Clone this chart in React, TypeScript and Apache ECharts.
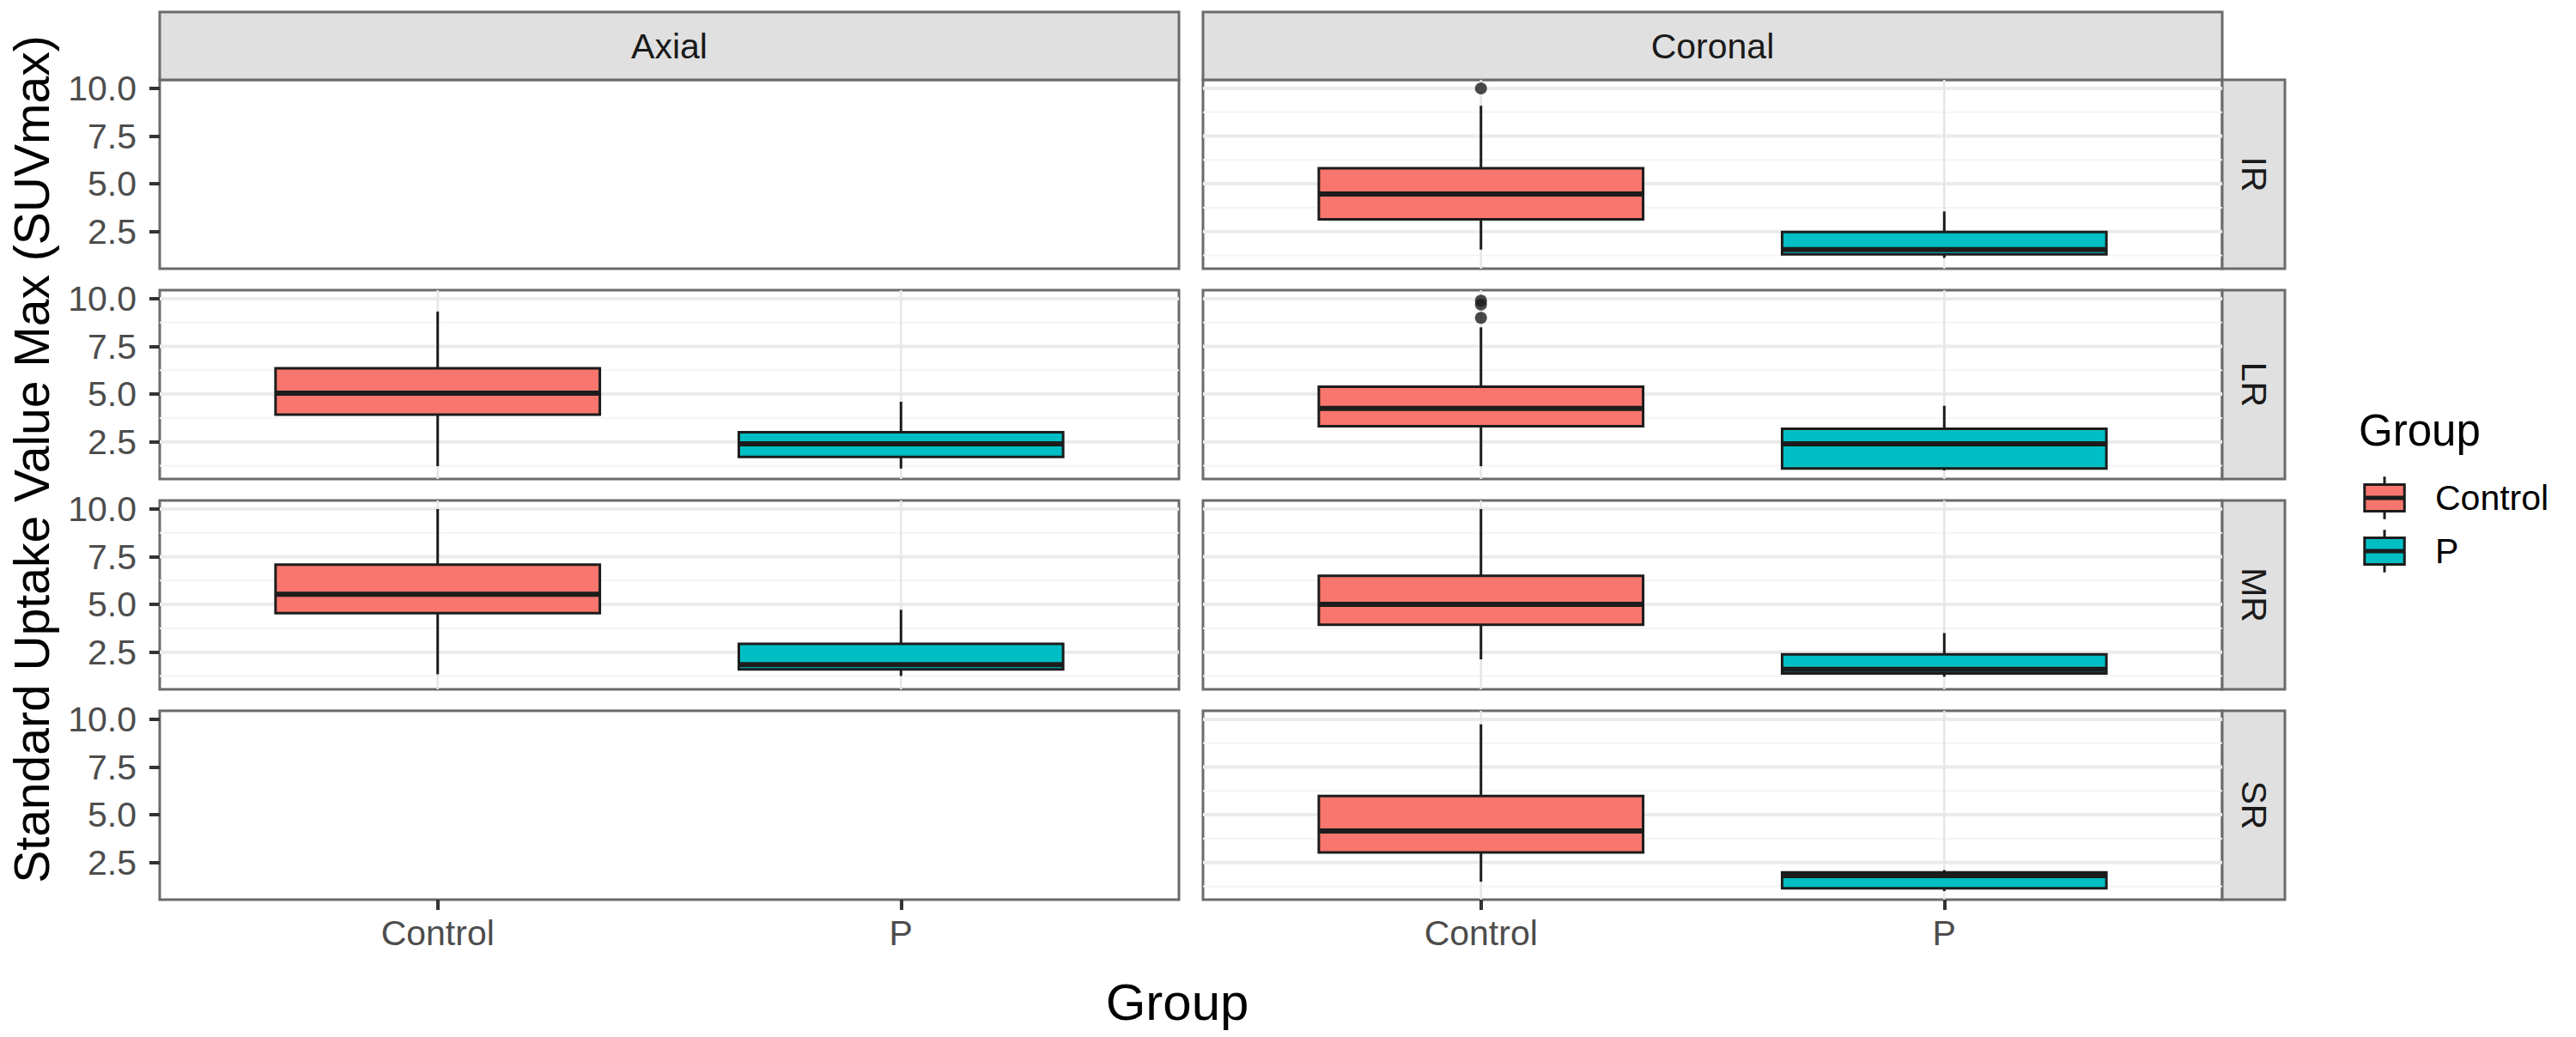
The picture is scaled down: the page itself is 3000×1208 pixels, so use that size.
import React, { useEffect, useRef } from "react";
import * as echarts from "echarts";

const views = ["Axial", "Coronal"];
const muscles = ["IR", "LR", "MR", "SR"];
const groups = ["Control", "P"];
const groupColors = ["#F8766D", "#00BFC4"];

const xPositions = [1, 2];
const yTicks = [2.5, 5.0, 7.5, 10.0];
const yMinorTicks = [1.25, 3.75, 6.25, 8.75];

// five-number summaries: [lower whisker, Q1, median, Q3, upper whisker], Control then P
const axialLR = [[1.22, 3.92, 5.05, 6.35, 9.33], [1.1, 1.71, 2.4, 3.0, 4.6]];
const axialMR = [[1.34, 4.54, 5.53, 7.09, 10.0], [1.25, 1.6, 1.84, 2.93, 4.72]];
const coronalIR = [[1.55, 3.14, 4.47, 5.81, 9.09], [1.12, 1.3, 1.55, 2.47, 3.55]];
const coronalLR = [[1.22, 3.32, 4.25, 5.39, 8.5], [1.0, 1.1, 2.4, 3.18, 4.39]];
const coronalMR = [[2.12, 3.94, 5.01, 6.5, 10.0], [1.21, 1.38, 1.6, 2.38, 3.5]];
const coronalSR = [[1.49, 3.02, 4.15, 5.98, 9.74], [1.0, 1.15, 1.81, 1.98, 2.1]];

// Control outliers
const coronalIROutliers = [10.0];
const coronalLROutliers = [9.0, 9.7, 9.9];

// [view][muscle]
const panelBoxes = [
  [null, axialLR, axialMR, null],
  [coronalIR, coronalLR, coronalMR, coronalSR],
];
const panelOutliers = [
  [[], [], [], []],
  [coronalIROutliers, coronalLROutliers, [], []],
];

const FONT = "Liberation Sans, Arial, sans-serif";
const COL_LEFT = [186, 1401];
const COL_W = 1187;
const ROW_TOP = [93, 338, 583, 828];
const ROW_H = 220;
const BOX_W = 0.7;
const OUTLINE = "#1c1c1c";
const BORDER = "#6b6b6b";

const App: React.FC = () => {
  const chartRef = useRef<HTMLDivElement | null>(null);

  useEffect(() => {
    if (!chartRef.current) return;
    const chart = echarts.init(chartRef.current, undefined, { renderer: "svg" });

    const grids: any[] = [];
    const xAxes: any[] = [];
    const yAxes: any[] = [];
    const series: any[] = [];

    // grid lines, drawn through the axes' scales
    const lines = [
      ...yMinorTicks.map((v) => ({ dir: "h", v, major: false })),
      ...yTicks.map((v) => ({ dir: "h", v, major: true })),
      ...xPositions.map((v) => ({ dir: "v", v, major: true })),
    ];

    views.forEach((view, c) => {
      muscles.forEach((muscle, r) => {
        const i = grids.length;
        const isBottom = r === muscles.length - 1;
        const isLeft = c === 0;
        grids.push({
          left: COL_LEFT[c],
          top: ROW_TOP[r],
          width: COL_W,
          height: ROW_H,
          show: true,
          backgroundColor: "#fff",
          borderColor: BORDER,
          borderWidth: 3,
        });
        xAxes.push({
          type: "value",
          gridIndex: i,
          min: 0.4,
          max: 2.6,
          axisLine: { show: false },
          splitLine: { show: false },
          axisTick: {
            show: isBottom,
            customValues: xPositions,
            length: 12,
            lineStyle: { color: "#333", width: 4 },
          },
          axisLabel: {
            show: isBottom,
            customValues: xPositions,
            formatter: (v: number) => groups[Math.round(v) - 1] ?? "",
            margin: 18,
            fontSize: 41,
            color: "#4d4d4d",
            fontFamily: FONT,
          },
        });
        yAxes.push({
          type: "value",
          gridIndex: i,
          min: 0.55,
          max: 10.45,
          axisLine: { show: false },
          splitLine: { show: false },
          axisTick: {
            show: isLeft,
            customValues: yTicks,
            length: 12,
            lineStyle: { color: "#333", width: 4 },
          },
          axisLabel: {
            show: isLeft,
            customValues: yTicks,
            formatter: (v: number) => v.toFixed(1),
            margin: 27,
            fontSize: 41,
            color: "#4d4d4d",
            fontFamily: FONT,
          },
        });

        const boxes = panelBoxes[c][r];
        if (!boxes) return;

        series.push({
          type: "custom",
          xAxisIndex: i,
          yAxisIndex: i,
          z: 1,
          silent: true,
          data: lines.map((l) => (l.dir === "h" ? [1.5, l.v] : [l.v, 5])),
          renderItem: (params: any, api: any) => {
            const l = lines[params.dataIndex];
            const a = l.dir === "h" ? api.coord([0.4, l.v]) : api.coord([l.v, 0.55]);
            const b = l.dir === "h" ? api.coord([2.6, l.v]) : api.coord([l.v, 10.45]);
            return {
              type: "line",
              shape: { x1: a[0], y1: a[1], x2: b[0], y2: b[1] },
              style: {
                stroke: l.dir === "v" ? "#e6e6e6" : l.major ? "#ebebeb" : "#f4f4f4",
                lineWidth: l.dir === "v" ? 2.5 : l.major ? 4 : 2,
              },
            };
          },
        });

        series.push({
          type: "custom",
          name: `${view} ${muscle}`,
          xAxisIndex: i,
          yAxisIndex: i,
          z: 2,
          encode: { x: 0, y: [1, 2, 3, 4, 5] },
          data: boxes.map((b, gi) => [xPositions[gi], ...b]),
          renderItem: (params: any, api: any) => {
            const x = api.value(0);
            const pLo = api.coord([x, api.value(1)]);
            const pQ1 = api.coord([x, api.value(2)]);
            const pMed = api.coord([x, api.value(3)]);
            const pQ3 = api.coord([x, api.value(4)]);
            const pHi = api.coord([x, api.value(5)]);
            const xl = api.coord([x - BOX_W / 2, api.value(3)])[0];
            const xr = api.coord([x + BOX_W / 2, api.value(3)])[0];
            return {
              type: "group",
              children: [
                {
                  type: "line",
                  shape: { x1: pLo[0], y1: pLo[1], x2: pQ1[0], y2: pQ1[1] },
                  style: { stroke: OUTLINE, lineWidth: 3 },
                },
                {
                  type: "line",
                  shape: { x1: pQ3[0], y1: pQ3[1], x2: pHi[0], y2: pHi[1] },
                  style: { stroke: OUTLINE, lineWidth: 3 },
                },
                {
                  type: "rect",
                  shape: { x: xl, y: pQ3[1], width: xr - xl, height: pQ1[1] - pQ3[1] },
                  style: { fill: groupColors[params.dataIndex], stroke: OUTLINE, lineWidth: 3 },
                },
                {
                  type: "line",
                  shape: { x1: xl, y1: pMed[1], x2: xr, y2: pMed[1] },
                  style: { stroke: OUTLINE, lineWidth: 6 },
                },
              ],
            };
          },
        });

        const outliers = panelOutliers[c][r];
        if (outliers.length) {
          series.push({
            type: "scatter",
            xAxisIndex: i,
            yAxisIndex: i,
            z: 3,
            symbol: "circle",
            symbolSize: 14,
            itemStyle: { color: OUTLINE },
            data: outliers.map((v) => [xPositions[0], v]),
          });
        }
      });
    });

    const graphic: any[] = [];

    // top strips
    views.forEach((view, c) => {
      graphic.push({
        type: "rect",
        shape: { x: COL_LEFT[c], y: 14, width: COL_W, height: ROW_TOP[0] - 14 },
        style: { fill: "#e0e0e0", stroke: BORDER, lineWidth: 3 },
      });
      graphic.push({
        type: "text",
        x: COL_LEFT[c] + COL_W / 2,
        y: (14 + ROW_TOP[0]) / 2,
        style: {
          text: view,
          align: "center",
          verticalAlign: "middle",
          fontSize: 41,
          fontFamily: FONT,
          fill: "#1a1a1a",
        },
      });
    });

    // right strips
    const stripX = COL_LEFT[1] + COL_W;
    const stripW = 73;
    muscles.forEach((m, r) => {
      graphic.push({
        type: "rect",
        shape: { x: stripX, y: ROW_TOP[r], width: stripW, height: ROW_H },
        style: { fill: "#e0e0e0", stroke: BORDER, lineWidth: 3 },
      });
      graphic.push({
        type: "text",
        x: stripX + stripW / 2,
        y: ROW_TOP[r] + ROW_H / 2,
        rotation: -Math.PI / 2,
        style: {
          text: m,
          align: "center",
          verticalAlign: "middle",
          fontSize: 41,
          fontFamily: FONT,
          fill: "#1a1a1a",
        },
      });
    });

    // axis titles
    graphic.push({
      type: "text",
      x: 37,
      y: 535,
      rotation: Math.PI / 2,
      style: {
        text: "Standard Uptake Value Max (SUVmax)",
        align: "center",
        verticalAlign: "middle",
        fontSize: 57,
        fontFamily: FONT,
        fill: "#000",
      },
    });
    graphic.push({
      type: "text",
      x: 1371,
      y: 1167,
      style: {
        text: "Group",
        align: "center",
        verticalAlign: "middle",
        fontSize: 60,
        fontFamily: FONT,
        fill: "#000",
      },
    });

    // legend
    const keyX = 2746;
    const keyTop = 549;
    const keySize = 62;
    graphic.push({
      type: "text",
      x: 2747,
      y: 501,
      style: {
        text: "Group",
        align: "left",
        verticalAlign: "middle",
        fontSize: 51,
        fontFamily: FONT,
        fill: "#000",
      },
    });
    groups.forEach((g, gi) => {
      const ky = keyTop + gi * keySize;
      const cx = keyX + keySize / 2;
      graphic.push({
        type: "line",
        shape: { x1: cx, y1: ky + keySize * 0.1, x2: cx, y2: ky + keySize * 0.9 },
        style: { stroke: OUTLINE, lineWidth: 3 },
      });
      graphic.push({
        type: "rect",
        shape: {
          x: keyX + keySize * 0.125,
          y: ky + keySize * 0.25,
          width: keySize * 0.75,
          height: keySize * 0.5,
        },
        style: { fill: groupColors[gi], stroke: OUTLINE, lineWidth: 3 },
      });
      graphic.push({
        type: "line",
        shape: {
          x1: keyX + keySize * 0.125,
          y1: ky + keySize / 2,
          x2: keyX + keySize * 0.875,
          y2: ky + keySize / 2,
        },
        style: { stroke: OUTLINE, lineWidth: 5 },
      });
      graphic.push({
        type: "text",
        x: keyX + keySize + 28,
        y: ky + keySize / 2,
        style: {
          text: g,
          align: "left",
          verticalAlign: "middle",
          fontSize: 41,
          fontFamily: FONT,
          fill: "#000",
        },
      });
    });

    chart.setOption({
      animation: false,
      backgroundColor: "#fff",
      textStyle: { fontFamily: FONT },
      grid: grids,
      xAxis: xAxes,
      yAxis: yAxes,
      series,
      graphic,
    });

    const handleResize = () => chart.resize();
    window.addEventListener("resize", handleResize);
    return () => {
      window.removeEventListener("resize", handleResize);
      chart.dispose();
    };
  }, []);

  return (
    <div
      ref={chartRef}
      style={{ position: "absolute", left: 0, top: 0, width: 3000, height: 1208 }}
    />
  );
};

export default App;
